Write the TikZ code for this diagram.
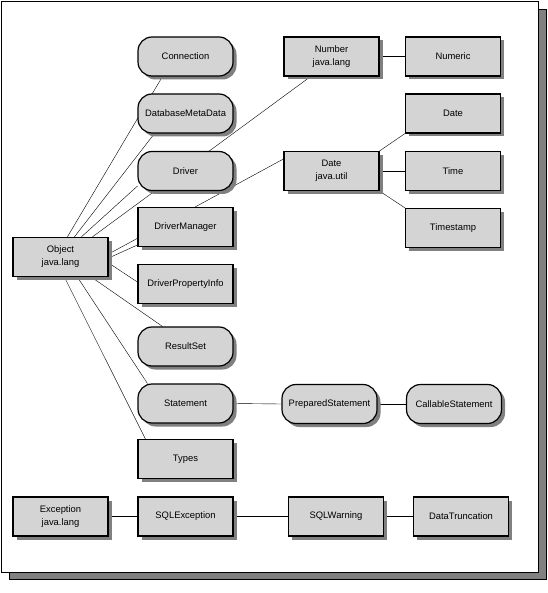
\documentclass[tikz,border=0pt]{standalone}
\usepackage{fontspec}
\setmainfont{Liberation Sans}
\usetikzlibrary{shadows}

\definecolor{boxgray}{RGB}{212,212,212}
\definecolor{shadegray}{RGB}{128,128,128}

\pgfdeclarelayer{frame}
\pgfdeclarelayer{links}
\pgfsetlayers{frame,links,main}

\begin{document}
\begin{tikzpicture}[x=1pt,y=-1pt,line width=1.1pt,
  cls/.style={draw,fill=boxgray,line width=1.2pt,minimum width=95pt,minimum height=39pt,
    inner sep=1pt,align=center,font=\fontsize{9.4}{13}\selectfont,
    drop shadow={shadow xshift=3.5pt,shadow yshift=-3.5pt,fill=shadegray,opacity=1}},
  iface/.style={cls,rounded corners=14pt}]

\useasboundingbox (0,0) rectangle (547,593);

% left column
\node[cls] (obj) at (60.5,257) {Object\\java.lang};
\node[cls] (exc) at (60.5,516.5) {Exception\\java.lang};

% middle column
\node[iface] (conn) at (185.5,56.5) {Connection};
\node[iface] (dbmd) at (185.5,113.5) {DatabaseMetaData};
\node[iface] (drv) at (185.5,171) {Driver};
\node[cls] (dm) at (185.5,227) {DriverManager};
\node[cls] (dpi) at (185.5,284) {DriverPropertyInfo};
\node[iface] (rs) at (185.5,346.5) {ResultSet};
\node[iface] (stmt) at (185.5,403.5) {Statement};
\node[cls] (types) at (185.5,459) {Types};
\node[cls] (sqlex) at (185.5,516.5) {SQLException};

% right part
\node[cls] (num) at (331.5,56.5) {Number\\java.lang};
\node[cls] (numeric) at (453,56.5) {Numeric};
\node[cls] (dateu) at (331.5,171) {Date\\java.util};
\node[cls] (date) at (453,113.5) {Date};
\node[cls] (time) at (453,171) {Time};
\node[cls] (tstamp) at (453,228) {Timestamp};
\node[iface] (pstmt) at (329.5,404) {PreparedStatement};
\node[iface] (cstmt) at (454,404) {CallableStatement};
\node[cls] (sqlw) at (336,516.5) {SQLWarning};
\node[cls] (trunc) at (461,516.5) {DataTruncation};

\begin{pgfonlayer}{frame}
\draw[fill=shadegray] (9,9) rectangle (546,579);
\draw[fill=white] (1,1) rectangle (538,572);
\end{pgfonlayer}

\begin{pgfonlayer}{links}
\draw ([xshift=55pt]obj.north west) -- ([xshift=25pt]conn.south west);
\draw ([xshift=62pt]obj.north west) -- ([xshift=17pt]dbmd.south west);
\draw ([xshift=69pt]obj.north west) -- ([yshift=5pt]drv.south west);
\draw ([xshift=80pt]obj.north west) -- ([xshift=-21pt]num.south);
\draw ([yshift=3pt]obj.east) -- ([yshift=12pt]dateu.west);
\draw ([yshift=-1pt]obj.east) -- ([yshift=-18pt]dm.west);
\draw ([yshift=-6pt]obj.east) -- ([yshift=2pt]dpi.west);
\draw ([xshift=79pt]obj.south west) -- ([xshift=25pt]rs.north west);
\draw ([xshift=65pt]obj.south west) -- ([xshift=10pt]stmt.north west);
\draw ([xshift=52pt]obj.south west) -- ([xshift=8pt]types.north west);

\draw (num.east) -- (numeric.west);
\draw (dateu.north east) -- (date.south west);
\draw (dateu.east) -- (time.west);
\draw (dateu.south east) -- (tstamp.north west);
\draw (stmt.east) -- (pstmt.west);
\draw (pstmt.east) -- (cstmt.west);
\draw (exc.east) -- (sqlex.west);
\draw (sqlex.east) -- (sqlw.west);
\draw (sqlw.east) -- (trunc.west);
\end{pgfonlayer}

\end{tikzpicture}
\end{document}
